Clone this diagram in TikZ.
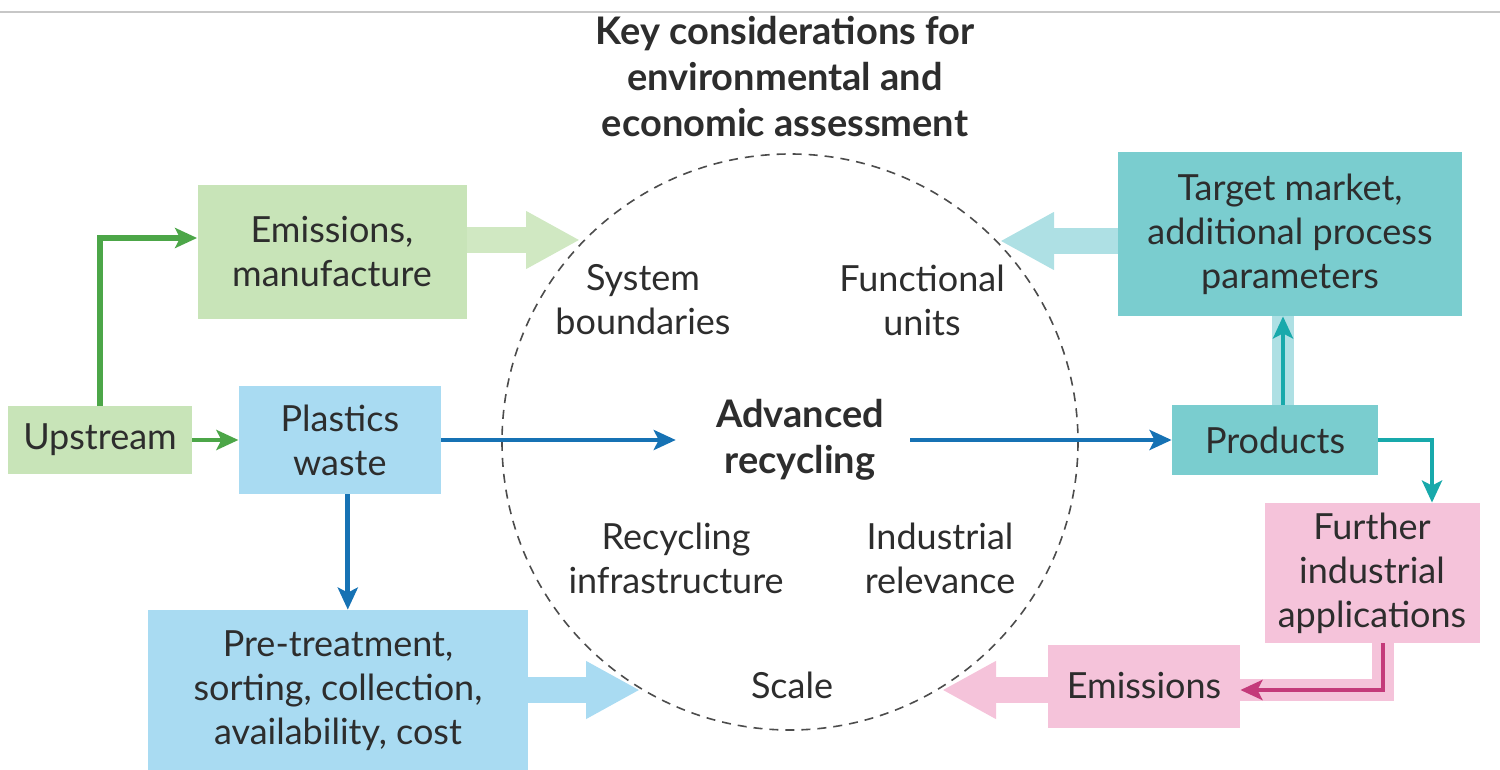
\documentclass[tikz,border=0pt]{standalone}
\usepackage{fontspec}
\setmainfont{Lato}
\usetikzlibrary{arrows.meta,positioning}
\definecolor{ink}{HTML}{2D2D2D}
\definecolor{leafLight}{HTML}{C8E4B8}
\definecolor{leafFade}{HTML}{D0E8C2}
\definecolor{leafDark}{HTML}{4CA648}
\definecolor{skyLight}{HTML}{A9DBF2}
\definecolor{skyDark}{HTML}{1672B4}
\definecolor{tealBox}{HTML}{7ACDCF}
\definecolor{tealFade}{HTML}{AEE0E4}
\definecolor{tealDark}{HTML}{18A9AB}
\definecolor{roseLight}{HTML}{F5C3DA}
\definecolor{roseDark}{HTML}{C43A7A}
\newcommand{\diagfont}{\fontsize{18}{22}\selectfont}
\newcommand{\headfont}{\bfseries\fontsize{19}{23}\selectfont}

\begin{document}
\begin{tikzpicture}[x=0.5pt,y=-0.5pt,
  box/.style={inner sep=0pt,align=center,font=\diagfont,text=ink},
  note/.style={align=center,font=\diagfont,text=ink},
  flow/.style={-{Stealth[length=11pt,width=10pt,inset=2.5pt]},line width=2.4pt},
  bigarrow/.style={-{Triangle[length=27pt,width=27pt]},line width=13pt}
]
\useasboundingbox (0,0) rectangle (1500,770);
\draw[black!22,line width=0.8pt] (0,12) -- (1500,12);

\node[note,font=\headfont] (title) at (785,77) {Key considerations for\\environmental and\\economic assessment};

% dashed circle of considerations
\draw[ink!85,line width=0.8pt,dash pattern=on 4.5pt off 3.5pt] (790,442) circle [radius=288];

% boxes
\node[box,fill=leafLight,minimum width=92pt,minimum height=34pt] (upstream) at (100,440) {Upstream};
\node[box,fill=skyLight,minimum width=101pt,minimum height=54pt,right=23pt of upstream] (waste) {Plastics\\waste};
\node[box,fill=leafLight,minimum width=134.5pt,minimum height=67pt] (emman) at (332,252) {Emissions,\\manufacture};
\node[box,fill=skyLight,minimum width=190pt,minimum height=81pt] (pretreat) at (338,691) {Pre-treatment,\\sorting, collection,\\availability, cost};
\node[note,font=\headfont,inner xsep=20pt] (advrec) at (800,440) {Advanced\\recycling};
\node[box,fill=tealBox,minimum width=103pt,minimum height=35pt] (products) at (1275,440) {Products};
\node[box,fill=tealBox,minimum width=172pt,minimum height=82pt] (target) at (1290,234) {Target market,\\additional process\\parameters};
\node[box,fill=roseLight,minimum width=107.5pt,minimum height=70pt] (further) at (1372,573) {Further\\industrial\\applications};
\node[box,fill=roseLight,minimum width=96pt,minimum height=41.5pt] (emis) at (1144,686) {Emissions};

% considerations inside the circle
\node[note] (sysbound) at (643,300) {System\\boundaries};
\node[note] (funits) at (922,300) {Functional\\units};
\node[note] (recinfra) at (676,558) {Recycling\\infrastructure};
\node[note] (indrel) at (940,558) {Industrial\\relevance};
\node[note] (scale) at (792,685) {Scale};

% broad arrows into the circle
\coordinate (emtip) at (580,240);
\coordinate (targettip) at (1000,241);
\coordinate (pretip) at (640,690);
\coordinate (emistip) at (942,690);
\draw[bigarrow,leafFade] (emman.east |- emtip) -- (emtip);
\draw[bigarrow,tealFade] (target.west |- targettip) -- (targettip);
\draw[bigarrow,skyLight] (pretreat.east |- pretip) -- (pretip);
\draw[bigarrow,roseLight] (emis.west |- emistip) -- (emistip);

% process flow
\draw[flow,leafDark,line width=3pt] (upstream.north) |- ([yshift=7pt]emman.west);
\draw[flow,leafDark] (upstream) -- (waste);
\draw[flow,skyDark] (waste) -- (advrec);
\draw[flow,skyDark,shorten <=-7pt] (advrec) -- (products);
\draw[flow,skyDark] ([xshift=4pt]waste.south) -- ([xshift=4pt]waste.south |- pretreat.north);
\draw[tealFade,line width=11pt] ([xshift=4pt]products.north) -- ([xshift=4pt]products.north |- target.south);
\draw[flow,tealDark] ([xshift=4pt]products.north) -- ([xshift=4pt]products.north |- target.south);
\draw[flow,tealDark] (products.east) -| ([xshift=30pt]further.north);
\draw[roseLight,line width=11pt] ([xshift=5.5pt]further.south) |- ([yshift=-2pt]emis.east);
\draw[flow,roseDark] ([xshift=5.5pt]further.south) |- ([yshift=-2pt]emis.east);
\end{tikzpicture}
\end{document}
